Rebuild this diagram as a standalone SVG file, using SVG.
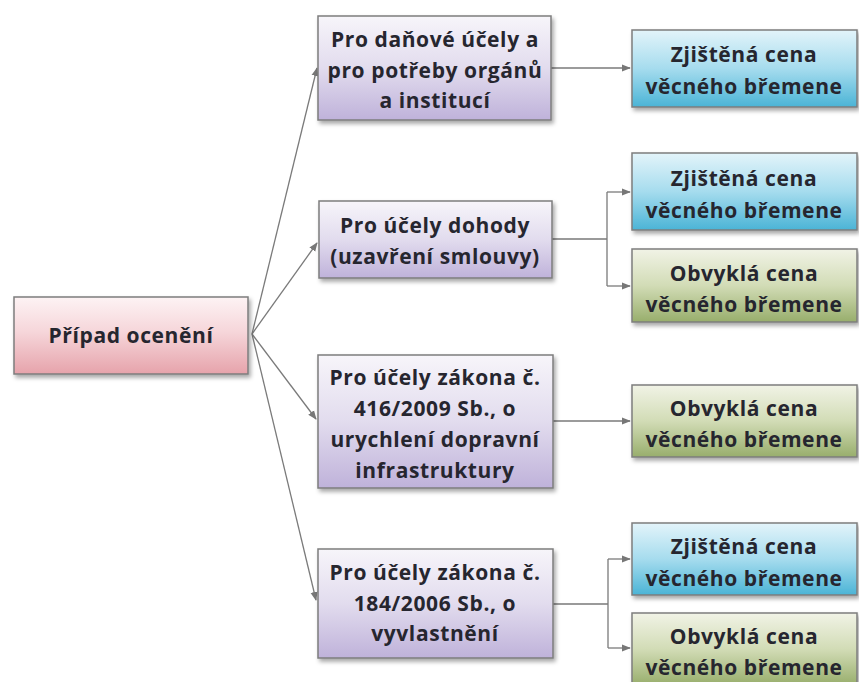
<svg xmlns="http://www.w3.org/2000/svg" width="859" height="682" viewBox="0 0 859 682">
  <defs>
    <linearGradient id="gPink" x1="0" y1="0" x2="0" y2="1">
      <stop offset="0" stop-color="#fdf3f4"/>
      <stop offset="0.45" stop-color="#f6d6da"/>
      <stop offset="1" stop-color="#e6a3ab"/>
    </linearGradient>
    <linearGradient id="gPurple" x1="0" y1="0" x2="0" y2="1">
      <stop offset="0" stop-color="#f7f5fa"/>
      <stop offset="0.5" stop-color="#e2dcee"/>
      <stop offset="1" stop-color="#bfb2da"/>
    </linearGradient>
    <linearGradient id="gBlue" x1="0" y1="0" x2="0" y2="1">
      <stop offset="0" stop-color="#e3f4fa"/>
      <stop offset="0.5" stop-color="#a6dcee"/>
      <stop offset="1" stop-color="#4bb4d6"/>
    </linearGradient>
    <linearGradient id="gGreen" x1="0" y1="0" x2="0" y2="1">
      <stop offset="0" stop-color="#f1f3e6"/>
      <stop offset="0.5" stop-color="#d2dcb6"/>
      <stop offset="1" stop-color="#98ae6c"/>
    </linearGradient>
    <filter id="shadow" x="-10%" y="-10%" width="125%" height="135%">
      <feDropShadow dx="2" dy="3" stdDeviation="2" flood-color="#000" flood-opacity="0.35"/>
    </filter>
    <marker id="arrow" viewBox="0 0 10 10" refX="9" refY="5" markerWidth="9" markerHeight="9" markerUnits="userSpaceOnUse" orient="auto">
      <path d="M0,1 L10,5 L0,9 Z" fill="#777"/>
    </marker>
  </defs>
  <style>
    .box { stroke: #7d7d7d; stroke-width: 1.5; filter: url(#shadow); }
    .pink { fill: url(#gPink); }
    .purple { fill: url(#gPurple); }
    .blue { fill: url(#gBlue); }
    .green { fill: url(#gGreen); }
    text { font-family: "Open Sans", "Noto Sans", "DejaVu Sans", sans-serif; font-weight: bold; font-size: 21px; letter-spacing: 0.6px; fill: #26262f; text-anchor: middle; }
    .conn { fill: none; stroke: #7a7a7a; stroke-width: 1.3; }
  </style>
  <rect width="859" height="682" fill="#ffffff"/>

  <!-- connectors -->
  <g id="connectors">
    <line class="conn" x1="252" y1="334" x2="317" y2="68" marker-end="url(#arrow)"/>
    <line class="conn" x1="252" y1="334" x2="317" y2="243" marker-end="url(#arrow)"/>
    <line class="conn" x1="252" y1="334" x2="316" y2="419" marker-end="url(#arrow)"/>
    <line class="conn" x1="252" y1="334" x2="316" y2="600" marker-end="url(#arrow)"/>
    <line class="conn" x1="551" y1="68" x2="630" y2="68" marker-end="url(#arrow)"/>
    <path class="conn" d="M552,239 H607 M607,192 V286"/>
    <line class="conn" x1="607" y1="192" x2="630" y2="192" marker-end="url(#arrow)"/>
    <line class="conn" x1="607" y1="286" x2="630" y2="286" marker-end="url(#arrow)"/>
    <line class="conn" x1="553" y1="421" x2="630" y2="421" marker-end="url(#arrow)"/>
    <path class="conn" d="M553,604 H608 M608,559 V648"/>
    <line class="conn" x1="608" y1="559" x2="630" y2="559" marker-end="url(#arrow)"/>
    <line class="conn" x1="608" y1="648" x2="630" y2="648" marker-end="url(#arrow)"/>
  </g>

  <!-- root -->
  <g id="root">
    <rect class="box pink" x="14" y="297" width="234" height="77"/>
    <text x="131" y="343">Případ ocenění</text>
  </g>

  <!-- second level -->
  <g id="purpose-tax">
    <rect class="box purple" x="318" y="16" width="233" height="104"/>
    <text x="435" y="47">Pro daňové účely a</text>
    <text x="435" y="78">pro potřeby orgánů</text>
    <text x="435" y="108">a institucí</text>
  </g>
  <g id="purpose-agreement">
    <rect class="box purple" x="319" y="201" width="233" height="77"/>
    <text x="435" y="233">Pro účely dohody</text>
    <text x="435" y="264">(uzavření smlouvy)</text>
  </g>
  <g id="purpose-416">
    <rect class="box purple" x="318" y="355" width="235" height="133"/>
    <text x="435" y="385">Pro účely zákona č.</text>
    <text x="435" y="416">416/2009 Sb., o</text>
    <text x="435" y="447">urychlení dopravní</text>
    <text x="435" y="478">infrastruktury</text>
  </g>
  <g id="purpose-184">
    <rect class="box purple" x="318" y="549" width="235" height="109"/>
    <text x="435" y="580">Pro účely zákona č.</text>
    <text x="435" y="611">184/2006 Sb., o</text>
    <text x="435" y="641">vyvlastnění</text>
  </g>

  <!-- leaves -->
  <g id="leaf-tax-zjistena">
    <rect class="box blue" x="632" y="30" width="225" height="77"/>
    <text x="744" y="62">Zjištěná cena</text>
    <text x="744" y="94">věcného břemene</text>
  </g>
  <g id="leaf-agreement-zjistena">
    <rect class="box blue" x="632" y="153" width="225" height="77"/>
    <text x="744" y="186">Zjištěná cena</text>
    <text x="744" y="218">věcného břemene</text>
  </g>
  <g id="leaf-agreement-obvykla">
    <rect class="box green" x="632" y="249" width="225" height="73"/>
    <text x="744" y="281">Obvyklá cena</text>
    <text x="744" y="312">věcného břemene</text>
  </g>
  <g id="leaf-416-obvykla">
    <rect class="box green" x="632" y="385" width="225" height="72"/>
    <text x="744" y="416">Obvyklá cena</text>
    <text x="744" y="447">věcného břemene</text>
  </g>
  <g id="leaf-184-zjistena">
    <rect class="box blue" x="632" y="523" width="225" height="72"/>
    <text x="744" y="554">Zjištěná cena</text>
    <text x="744" y="586">věcného břemene</text>
  </g>
  <g id="leaf-184-obvykla">
    <rect class="box green" x="632" y="613" width="225" height="72"/>
    <text x="744" y="644">Obvyklá cena</text>
    <text x="744" y="675">věcného břemene</text>
  </g>
</svg>
